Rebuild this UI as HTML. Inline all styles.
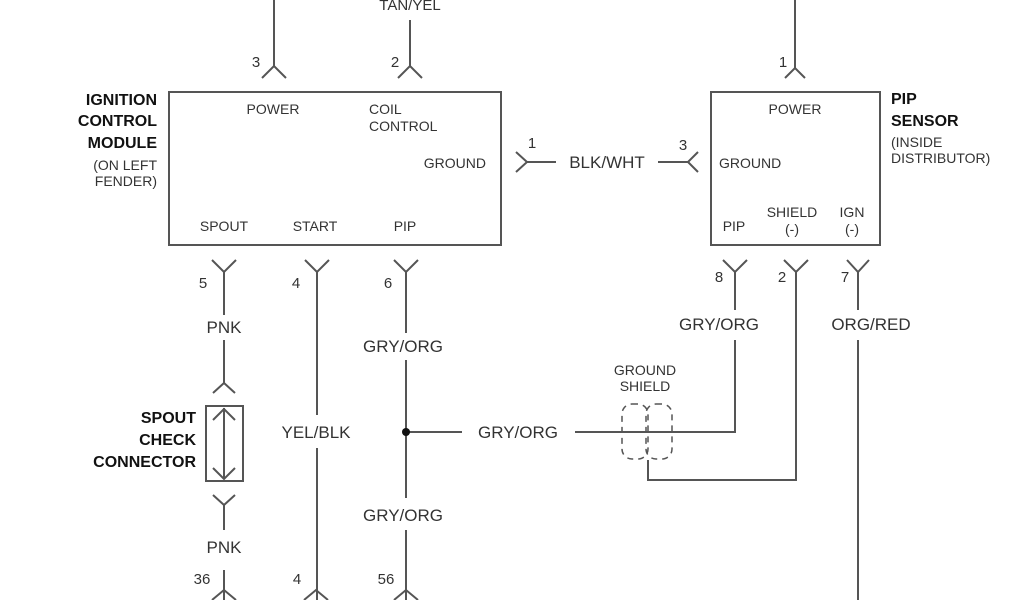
<!DOCTYPE html>
<html><head><style>
body{margin:0;background:#fff}
svg{display:block}
text{font-family:"Liberation Sans",sans-serif;fill:#333}
</style></head><body>
<svg width="1024" height="600" viewBox="0 0 1024 600" xmlns="http://www.w3.org/2000/svg">
<g stroke="#555" stroke-width="2" fill="none">
<rect x="169" y="92" width="332" height="153"/>
<rect x="711" y="92" width="169" height="153"/>
<path d="M274 0V66M262 78L274 66L286 78"/>
<path d="M410 20V66M398 78L410 66L422 78"/>
<path d="M795 0V68M785 78L795 68L805 78"/>
<path d="M516 152L527 162L516 172M527 162H556M658 162H688L698 152M688 162L698 172"/>
<path d="M212 260L224 272L236 260M224 272V315"/>
<path d="M305 260L317 272L329 260M317 272V415M317 448V600"/>
<path d="M394 260L406 272L418 260M406 272V333M406 360V498M406 530V600"/>
<path d="M723 260L735 272L747 260M735 272V310M735 340V432H575M462 432H406"/>
<path d="M784 260L796 272L808 260M796 272V480H648V460"/>
<path d="M847 260L858 272L869 260M858 272V310M858 340V600"/>
<path d="M224 340V383M213 393L224 383L235 393"/>
<rect x="206" y="406" width="37" height="75"/>
<path d="M224 408V479M213 420L224 409L235 420M213 468L224 479L235 468"/>
<path d="M213 495L224 505L235 495M224 505V530M224 570V600M212 600L224 590L236 600"/>
<path d="M304 600L316 590L328 600M394 600L406 590L418 600"/>
<g stroke-dasharray="6,5" stroke-width="1.5">
<rect x="622" y="404" width="26" height="55" rx="10"/>
<rect x="646" y="404" width="26" height="55" rx="10"/>
</g>
</g>
<circle cx="406" cy="432" r="4" fill="#111"/>
<g font-size="15">
<text x="410" y="10" text-anchor="middle">TAN/YEL</text>
<text x="256" y="67" text-anchor="middle">3</text>
<text x="395" y="67" text-anchor="middle">2</text>
<text x="783" y="67" text-anchor="middle">1</text>
<text x="203" y="288" text-anchor="middle">5</text>
<text x="296" y="288" text-anchor="middle">4</text>
<text x="388" y="288" text-anchor="middle">6</text>
<text x="719" y="282" text-anchor="middle">8</text>
<text x="782" y="282" text-anchor="middle">2</text>
<text x="845" y="282" text-anchor="middle">7</text>
<text x="532" y="148" text-anchor="middle">1</text>
<text x="683" y="150" text-anchor="middle">3</text>
<text x="202" y="584" text-anchor="middle">36</text>
<text x="297" y="584" text-anchor="middle">4</text>
<text x="386" y="584" text-anchor="middle">56</text>
</g>
<g font-size="17">
<text x="607" y="168" text-anchor="middle">BLK/WHT</text>
<text x="224" y="333" text-anchor="middle">PNK</text>
<text x="224" y="553" text-anchor="middle">PNK</text>
<text x="316" y="438" text-anchor="middle">YEL/BLK</text>
<text x="403" y="352" text-anchor="middle">GRY/ORG</text>
<text x="403" y="521" text-anchor="middle">GRY/ORG</text>
<text x="518" y="438" text-anchor="middle">GRY/ORG</text>
<text x="719" y="330" text-anchor="middle">GRY/ORG</text>
<text x="871" y="330" text-anchor="middle">ORG/RED</text>
</g>
<g font-size="14">
<text x="273" y="114" text-anchor="middle">POWER</text>
<text x="369" y="114">COIL</text>
<text x="369" y="131">CONTROL</text>
<text x="486" y="168" text-anchor="end">GROUND</text>
<text x="224" y="231" text-anchor="middle">SPOUT</text>
<text x="315" y="231" text-anchor="middle">START</text>
<text x="405" y="231" text-anchor="middle">PIP</text>
<text x="795" y="114" text-anchor="middle">POWER</text>
<text x="719" y="168">GROUND</text>
<text x="734" y="231" text-anchor="middle">PIP</text>
<text x="792" y="217" text-anchor="middle">SHIELD</text>
<text x="792" y="234" text-anchor="middle">(-)</text>
<text x="852" y="217" text-anchor="middle">IGN</text>
<text x="852" y="234" text-anchor="middle">(-)</text>
<text x="645" y="375" text-anchor="middle">GROUND</text>
<text x="645" y="391" text-anchor="middle">SHIELD</text>
<text x="157" y="170" text-anchor="end">(ON LEFT</text>
<text x="157" y="186" text-anchor="end">FENDER)</text>
<text x="891" y="147">(INSIDE</text>
<text x="891" y="163">DISTRIBUTOR)</text>
</g>
<g font-size="16" font-weight="bold">
<text x="157" y="105" text-anchor="end" style="fill:#111">IGNITION</text>
<text x="157" y="126" text-anchor="end" style="fill:#111">CONTROL</text>
<text x="157" y="148" text-anchor="end" style="fill:#111">MODULE</text>
<text x="891" y="104" style="fill:#111">PIP</text>
<text x="891" y="126" style="fill:#111">SENSOR</text>
<text x="196" y="423" text-anchor="end" style="fill:#111">SPOUT</text>
<text x="196" y="445" text-anchor="end" style="fill:#111">CHECK</text>
<text x="196" y="467" text-anchor="end" style="fill:#111">CONNECTOR</text>
</g>
</svg>
</body></html>
